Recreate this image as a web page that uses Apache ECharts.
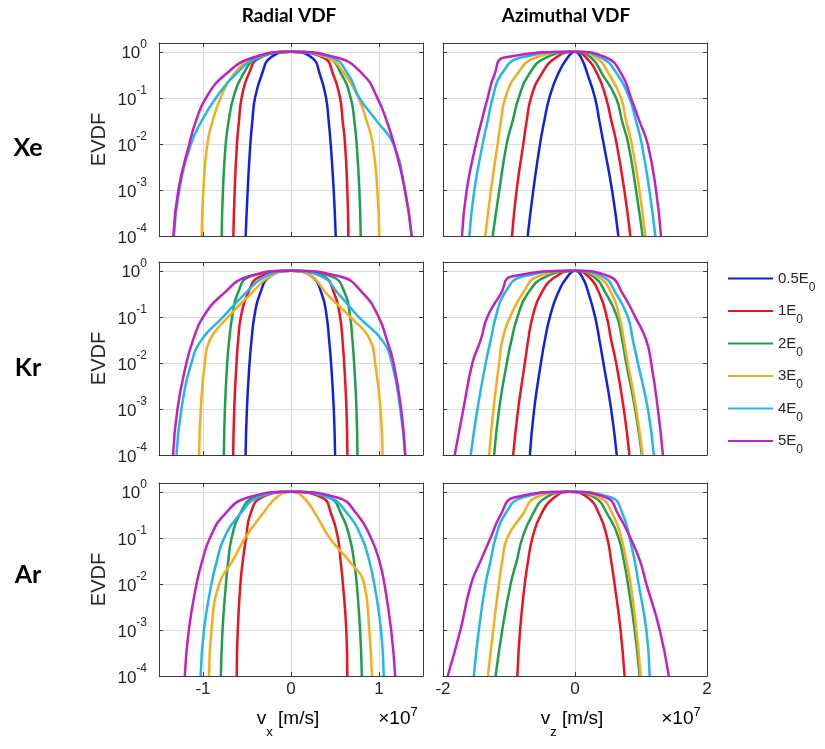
<!DOCTYPE html>
<html><head><meta charset="utf-8">
<script src="https://cdn.jsdelivr.net/npm/echarts@6/dist/echarts.min.js"></script>
<style>html,body{margin:0;padding:0;background:#fff}#c{width:825px;height:749px}</style>
</head><body><div id="c"></div>
<script>
// ---------- data ----------
const SERIES_NAMES = ['0.5E0', '1E0', '2E0', '3E0', '4E0', '5E0'];
const ROW_LABELS = ['Xe', 'Kr', 'Ar'];
const COL_TITLES = ['Radial VDF', 'Azimuthal VDF'];
const Y_TICKS = [1e-4, 1e-3, 1e-2, 1e-1, 1];
const RADIAL_X_TICKS = [-1, 0, 1];
const AZIM_X_TICKS = [-2, 0, 2];
// EVDF levels at which the left/right branch velocities (units of 1e7 m/s) were read
const LEVELS = [1e-4, 1e-3, 1e-2, 0.0316, 0.1, 0.316, 0.75];

// Xe radial
const xeRadialPeak = 0;
const xeRadialLeft = [
  [-0.515, -0.492, -0.462, -0.439, -0.409, -0.333, -0.231],
  [-0.655, -0.640, -0.614, -0.591, -0.561, -0.485, -0.352],
  [-0.788, -0.773, -0.742, -0.708, -0.655, -0.549, -0.371],
  [-1.015, -0.996, -0.951, -0.890, -0.799, -0.655, -0.409],
  [-1.330, -1.269, -1.136, -1.015, -0.852, -0.636, -0.371],
  [-1.337, -1.280, -1.155, -1.080, -0.966, -0.750, -0.430]
];
const xeRadialRight = [
  [0.508, 0.485, 0.451, 0.428, 0.398, 0.330, 0.235],
  [0.652, 0.640, 0.614, 0.587, 0.557, 0.481, 0.367],
  [0.792, 0.777, 0.746, 0.720, 0.678, 0.576, 0.413],
  [1.004, 0.981, 0.928, 0.860, 0.765, 0.614, 0.413],
  [1.371, 1.295, 1.163, 0.973, 0.777, 0.652, 0.462],
  [1.371, 1.295, 1.170, 1.087, 0.981, 0.822, 0.519]
];
// Xe azimuthal
const xeAzimPeak = 0;
const xeAzimLeft = [
  [-0.717, -0.631, -0.530, -0.465, -0.389, -0.263, -0.111],
  [-0.955, -0.884, -0.783, -0.732, -0.667, -0.515, -0.288],
  [-1.247, -1.146, -1.035, -0.944, -0.854, -0.702, -0.439],
  [-1.359, -1.273, -1.172, -1.121, -1.056, -0.884, -0.591],
  [-1.601, -1.525, -1.399, -1.323, -1.247, -1.121, -0.818],
  [-1.712, -1.641, -1.500, -1.414, -1.323, -1.222, -1.071]
];
const xeAzimRight = [
  [0.657, 0.561, 0.434, 0.369, 0.303, 0.192, 0.091],
  [0.838, 0.747, 0.631, 0.551, 0.470, 0.343, 0.167],
  [1.025, 0.924, 0.808, 0.712, 0.621, 0.419, 0.242],
  [1.066, 0.975, 0.859, 0.773, 0.697, 0.520, 0.318],
  [1.217, 1.126, 1.010, 0.924, 0.823, 0.646, 0.394],
  [1.303, 1.227, 1.101, 0.975, 0.848, 0.712, 0.470]
];
// Kr radial
const krRadialPeak = 0;
const krRadialLeft = [
  [-0.516, -0.501, -0.471, -0.448, -0.417, -0.353, -0.239],
  [-0.657, -0.645, -0.619, -0.600, -0.569, -0.493, -0.353],
  [-0.763, -0.751, -0.725, -0.702, -0.668, -0.607, -0.467],
  [-1.044, -1.025, -0.979, -0.922, -0.713, -0.455, -0.239],
  [-1.302, -1.245, -1.131, -1.017, -0.770, -0.524, -0.296],
  [-1.340, -1.290, -1.188, -1.112, -0.998, -0.770, -0.486]
];
const krRadialRight = [
  [0.501, 0.486, 0.455, 0.433, 0.406, 0.349, 0.235],
  [0.641, 0.630, 0.604, 0.585, 0.558, 0.493, 0.368],
  [0.755, 0.744, 0.717, 0.698, 0.672, 0.615, 0.463],
  [1.040, 1.017, 0.956, 0.899, 0.672, 0.406, 0.235],
  [1.298, 1.241, 1.146, 1.032, 0.767, 0.539, 0.349],
  [1.298, 1.252, 1.165, 1.089, 0.995, 0.824, 0.558]
];
// Kr azimuthal
const krAzimPeak = 0;
const krAzimLeft = [
  [-0.684, -0.618, -0.516, -0.456, -0.380, -0.263, -0.111],
  [-0.937, -0.861, -0.759, -0.709, -0.643, -0.516, -0.289],
  [-1.225, -1.149, -1.033, -0.962, -0.871, -0.719, -0.441],
  [-1.301, -1.235, -1.149, -1.099, -0.982, -0.795, -0.567],
  [-1.580, -1.478, -1.352, -1.276, -1.200, -1.073, -0.795],
  [-1.823, -1.691, -1.554, -1.428, -1.327, -1.124, -0.960]
];
const krAzimRight = [
  [0.633, 0.547, 0.430, 0.370, 0.304, 0.208, 0.106],
  [0.825, 0.739, 0.623, 0.547, 0.481, 0.370, 0.203],
  [1.013, 0.911, 0.775, 0.714, 0.638, 0.471, 0.278],
  [1.023, 0.927, 0.800, 0.739, 0.673, 0.557, 0.344],
  [1.195, 1.104, 0.952, 0.876, 0.800, 0.623, 0.420],
  [1.332, 1.256, 1.154, 1.078, 0.911, 0.724, 0.522]
];
// Ar radial (no 0.5E0 curve)
const arRadialPeak = 0;
const arRadialLeft = [
  null,
  [-0.617, -0.605, -0.575, -0.548, -0.510, -0.464, -0.337],
  [-0.797, -0.778, -0.739, -0.713, -0.674, -0.586, -0.414],
  [-0.931, -0.904, -0.816, -0.663, -0.521, -0.330, -0.165],
  [-1.027, -0.989, -0.904, -0.843, -0.759, -0.586, -0.375],
  [-1.207, -1.161, -1.073, -1.008, -0.920, -0.759, -0.490]
];
const arRadialRight = [
  null,
  [0.640, 0.628, 0.590, 0.563, 0.533, 0.460, 0.352],
  [0.805, 0.785, 0.747, 0.716, 0.667, 0.575, 0.429],
  [0.920, 0.889, 0.831, 0.659, 0.437, 0.284, 0.142],
  [1.054, 1.023, 0.946, 0.889, 0.805, 0.651, 0.429],
  [1.184, 1.138, 1.061, 1.004, 0.908, 0.755, 0.525]
];
// Ar azimuthal (no 0.5E0 curve)
const arAzimPeak = -0.086;
const arAzimLeft = [
  null,
  [-0.873, -0.832, -0.761, -0.711, -0.645, -0.518, -0.315],
  [-1.203, -1.102, -0.975, -0.883, -0.797, -0.645, -0.442],
  [-1.320, -1.239, -1.152, -1.102, -1.025, -0.797, -0.594],
  [-1.533, -1.457, -1.355, -1.279, -1.203, -1.066, -0.797],
  [-1.929, -1.736, -1.574, -1.431, -1.279, -1.127, -0.924]
];
const arAzimRight = [
  null,
  [0.751, 0.690, 0.599, 0.548, 0.487, 0.371, 0.193],
  [0.980, 0.904, 0.802, 0.741, 0.660, 0.497, 0.294],
  [0.995, 0.929, 0.843, 0.777, 0.701, 0.574, 0.371],
  [1.132, 1.081, 0.964, 0.904, 0.827, 0.726, 0.548],
  [1.421, 1.284, 1.081, 0.985, 0.838, 0.660, 0.472]
];

// ---------- style ----------
const COLORS = ['#1020e6', '#f01020', '#1f9e4c', '#f8ac1c', '#22b6ee', '#c21fc6'];
const FONT = 'Liberation Sans, Arial, sans-serif';
const TXT = '#262626';
const GRID_LEFT = [159, 443];
const GRID_TOP = [43, 262, 483];
const GRID_W = 264, GRID_H = 193;
const Y_MAX = 1.55;

const panels = [
  { left: xeRadialLeft, right: xeRadialRight, peak: xeRadialPeak },
  { left: xeAzimLeft, right: xeAzimRight, peak: xeAzimPeak },
  { left: krRadialLeft, right: krRadialRight, peak: krRadialPeak },
  { left: krAzimLeft, right: krAzimRight, peak: krAzimPeak },
  { left: arRadialLeft, right: arRadialRight, peak: arRadialPeak },
  { left: arAzimLeft, right: arAzimRight, peak: arAzimPeak }
];

const grids = [], xAxes = [], yAxes = [], series = [];
const lineCol = '#3a3a3a';
const isTick = v => Y_TICKS.some(t => Math.abs(Math.log10(t) - Math.log10(v)) < 1e-6);

panels.forEach((p, g) => {
  const row = Math.floor(g / 2), col = g % 2;
  grids.push({ left: GRID_LEFT[col], top: GRID_TOP[row], width: GRID_W, height: GRID_H, containLabel: false });
  const radial = col === 0;
  const xTicks = radial ? RADIAL_X_TICKS : AZIM_X_TICKS;
  const xBase = {
    type: 'value', gridIndex: g,
    min: radial ? -1.5 : -2, max: radial ? 1.5 : 2,
    axisLine: { show: true, onZero: false, lineStyle: { color: lineCol, width: 1 } },
    axisTick: { show: true, inside: true, length: 4, lineStyle: { color: lineCol } }
  };
  if (radial) xBase.splitNumber = 3; else xBase.interval = 2;
  xAxes.push(Object.assign({}, xBase, {
    position: 'bottom',
    splitLine: { show: true, lineStyle: { color: '#dcdcdc', width: 1 } },
    axisLabel: {
      show: row === 2, margin: 5, fontSize: 17, fontFamily: FONT, color: TXT,
      showMinLabel: !radial, showMaxLabel: !radial,
      formatter: v => (xTicks.indexOf(v) >= 0 ? String(v) : '')
    }
  }));
  xAxes.push(Object.assign({}, xBase, {
    position: 'top', splitLine: { show: false }, axisLabel: { show: false }
  }));
  const yBase = {
    type: 'log', gridIndex: g, min: 1e-4, max: Y_MAX, logBase: 10, interval: 1,
    axisLine: { show: true, onZero: false, lineStyle: { color: lineCol, width: 1 } },
    axisTick: { show: true, inside: true, length: 4, lineStyle: { color: lineCol } }
  };
  yAxes.push(Object.assign({}, yBase, {
    position: 'left',
    name: col === 0 ? 'EVDF' : '',
    nameLocation: 'middle', nameGap: 50,
    nameTextStyle: { fontSize: 20, fontFamily: FONT, color: TXT },
    splitLine: { show: true, lineStyle: { color: '#dcdcdc', width: 1 } },
    axisLabel: {
      show: col === 0, margin: 12, fontFamily: FONT, color: TXT,
      formatter: v => (isTick(v) ? '{b|10}{s|' + Math.round(Math.log10(v)) + '}' : ''),
      rich: {
        b: { fontSize: 17, fontFamily: FONT, color: TXT, padding: [4, 0, 0, 0] },
        s: { fontSize: 12, fontFamily: FONT, color: TXT, padding: [0, 0, 14, 0] }
      }
    }
  }));
  yAxes.push(Object.assign({}, yBase, {
    position: 'right', splitLine: { show: false }, axisLabel: { show: false }
  }));

  p.left.forEach((L, i) => {
    if (!L) return;
    const R = p.right[i];
    const pts = LEVELS.map((y, k) => [L[k], y]);
    pts.push([p.peak, 1]);
    for (let k = LEVELS.length - 1; k >= 0; k--) pts.push([R[k], LEVELS[k]]);
    series.push({
      name: SERIES_NAMES[i], type: 'line', xAxisIndex: 2 * g, yAxisIndex: 2 * g,
      data: pts, symbol: 'none', showSymbol: false, smooth: 0.5, clip: true,
      lineStyle: { width: 2.5, color: COLORS[i] }, itemStyle: { color: COLORS[i] },
      z: 2 + i
    });
  });
});

const graphic = [];
COL_TITLES.forEach((t, c) => {
  graphic.push({ type: 'text', x: c === 0 ? 289 : 566, y: 16,
    style: { text: t, font: 'bold 19px Lato, "Open Sans", sans-serif', fill: '#000', align: 'center', verticalAlign: 'middle' } });
});
const ROW_Y = [148, 368, 575];
ROW_LABELS.forEach((t, r) => {
  graphic.push({ type: 'text', x: 28, y: ROW_Y[r],
    style: { text: t, font: 'bold 25px Lato, "Open Sans", sans-serif', fill: '#000', align: 'center', verticalAlign: 'middle' } });
});
const axisNameRich = {
  n: { fontSize: 19, fontFamily: FONT, color: TXT },
  sub: { fontSize: 13, fontFamily: FONT, color: TXT, padding: [26, 0, 0, 0] },
  sup: { fontSize: 13, fontFamily: FONT, color: TXT, padding: [0, 0, 14, 0] }
};
[['x', 288], ['z', 572]].forEach(([s, cx]) => {
  graphic.push({ type: 'text', x: cx, y: 719,
    style: { text: '{n|v}{sub|' + s + '}{n| [m/s]}', rich: axisNameRich, align: 'center', verticalAlign: 'middle' } });
});
[398, 681].forEach(cx => {
  graphic.push({ type: 'text', x: cx, y: 719,
    style: { text: '{n|\u00d710}{sup|7}', rich: axisNameRich, align: 'center', verticalAlign: 'middle' } });
});

const chart = echarts.init(document.getElementById('c'), null, { renderer: 'canvas' });
chart.setOption({
  animation: false,
  backgroundColor: '#fff',
  grid: grids, xAxis: xAxes, yAxis: yAxes, series: series,
  legend: {
    data: SERIES_NAMES, orient: 'vertical', left: 722, top: 266,
    itemWidth: 45, itemHeight: 10, itemGap: 10,
    itemStyle: { opacity: 0 },
    formatter: name => '{m|' + name.slice(0, -1) + '}{sub|0}',
    textStyle: {
      rich: {
        m: { fontSize: 15, fontFamily: FONT, color: TXT },
        sub: { fontSize: 12, fontFamily: FONT, color: TXT, padding: [18, 0, 0, 0] }
      }
    }
  },
  graphic: graphic
});
</script></body></html>
